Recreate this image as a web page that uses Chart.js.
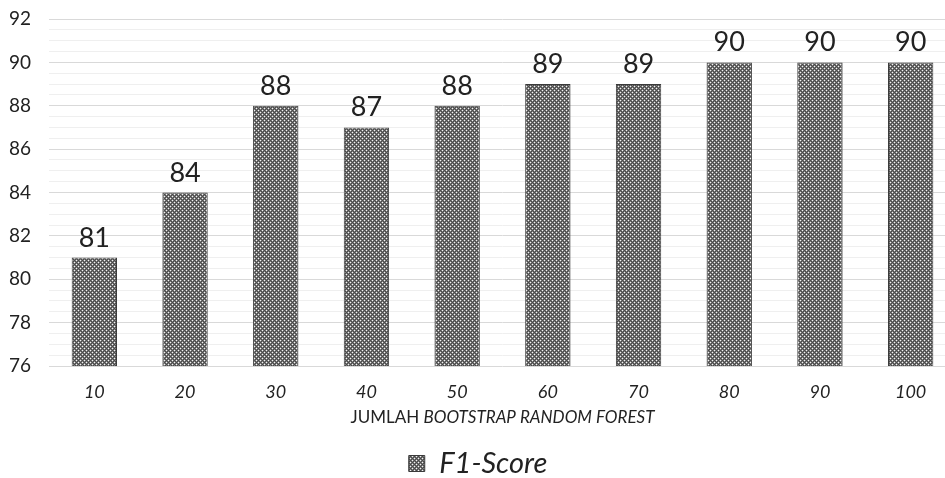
<!DOCTYPE html>
<html>
<head>
<meta charset="utf-8">
<script src="https://cdn.jsdelivr.net/npm/chart.js@4.4.1/dist/chart.umd.min.js"></script>
<style>
  html, body { margin: 0; padding: 0; background: #ffffff; overflow: hidden; }
  #wrap { position: relative; width: 956px; height: 488px; }
</style>
</head>
<body>
<div id="wrap"><canvas id="chart"></canvas></div>
<script>
// Number of bootstrap trees and the F1-score obtained for each
const bootstrapCounts = ['10', '20', '30', '40', '50', '60', '70', '80', '90', '100'];
const f1Scores = [81, 84, 88, 87, 88, 89, 89, 90, 90, 90];
const seriesName = 'F1-Score';
const axisTitleNormal = 'JUMLAH ';
const axisTitleItalic = 'BOOTSTRAP RANDOM FOREST';
const yMin = 76;
const yMax = 92;

const FONT = 'Lato, "Open Sans", "DejaVu Sans", sans-serif';
const TEXT = '#222222';

// Dotted grey fill used for the bars and the legend key
function dottedPattern() {
  const tile = document.createElement('canvas');
  tile.width = 4; tile.height = 4;
  const t = tile.getContext('2d');
  for (let y = 0; y < 4; y++) {
    for (let x = 0; x < 4; x++) {
      t.fillStyle = (x + y) % 2 === 0 ? '#4a4a4a' : '#7c7c7c';
      t.fillRect(x, y, 1, 1);
    }
  }
  t.fillStyle = '#f4f4f4';
  t.fillRect(0, 0, 1, 1);
  t.fillRect(2, 2, 1, 1);
  return document.getElementById('chart').getContext('2d').createPattern(tile, 'repeat');
}
const barFill = dottedPattern();

// Value labels above each bar
const valueLabels = {
  id: 'valueLabels',
  afterDatasetsDraw(chart) {
    const ctx = chart.ctx;
    const meta = chart.getDatasetMeta(0);
    ctx.save();
    ctx.font = '27px ' + FONT;
    ctx.fillStyle = TEXT;
    ctx.textAlign = 'center';
    ctx.textBaseline = 'alphabetic';
    meta.data.forEach((bar, i) => {
      ctx.fillText(String(chart.data.datasets[0].data[i]), bar.x, bar.y - 11);
    });
    ctx.restore();
  }
};

// X-axis title with mixed upright / italic wording
const axisTitle = {
  id: 'axisTitle',
  afterDraw(chart) {
    const ctx = chart.ctx;
    const area = chart.chartArea;
    ctx.save();
    ctx.fillStyle = TEXT;
    ctx.textBaseline = 'middle';
    ctx.textAlign = 'left';
    const normalFont = '17px ' + FONT;
    const italicFont = 'italic 17px ' + FONT;
    ctx.font = normalFont;
    const w1 = ctx.measureText(axisTitleNormal).width;
    ctx.font = italicFont;
    const w2 = ctx.measureText(axisTitleItalic).width;
    const cx = (area.left + area.right) / 2;
    const x0 = cx - (w1 + w2) / 2;
    const y = 418;
    ctx.font = normalFont;
    ctx.fillText(axisTitleNormal, x0, y);
    ctx.font = italicFont;
    ctx.fillText(axisTitleItalic, x0 + w1, y);
    ctx.restore();
  }
};

new Chart(document.getElementById('chart'), {
  type: 'bar',
  data: {
    labels: bootstrapCounts,
    datasets: [{
      label: seriesName,
      data: f1Scores,
      backgroundColor: barFill,
      borderColor: '#3a3a3a',
      borderWidth: 1,
      barPercentage: 0.5,
      categoryPercentage: 1.0
    }]
  },
  options: {
    responsive: true,
    maintainAspectRatio: false,
    animation: false,
    layout: { padding: { top: 19, right: 0, bottom: 0, left: 0 } },
    plugins: {
      legend: {
        position: 'bottom',
        labels: {
          boxWidth: 16,
          boxHeight: 16,
          padding: 10,
          color: TEXT,
          font: { family: FONT, size: 29, style: 'italic' }
        }
      },
      tooltip: { enabled: false }
    },
    scales: {
      x: {
        grid: { display: false, drawTicks: false },
        border: { display: false },
        ticks: {
          padding: 15,
          color: TEXT,
          font: { family: FONT, size: 18, style: 'italic' }
        },
        afterFit(scale) { scale.height = 73; }
      },
      y: {
        min: yMin,
        max: yMax,
        border: { display: false },
        grid: {
          drawTicks: false,
          lineWidth: 1,
          color: (c) => (c.tick && c.tick.value % 2 === 0) ? '#d9d9d9' : '#efefef'
        },
        ticks: {
          stepSize: 0.5,
          autoSkip: false,
          maxTicksLimit: 100,
          padding: 18,
          color: TEXT,
          font: { family: FONT, size: 19 },
          callback: (v) => (v % 2 === 0 ? String(v) : '')
        },
        afterFit(scale) {
          scale.width = 49;
          scale.paddingTop = 0;
          scale.paddingBottom = 0;
        }
      }
    }
  },
  plugins: [valueLabels, axisTitle]
});
</script>
</body>
</html>
